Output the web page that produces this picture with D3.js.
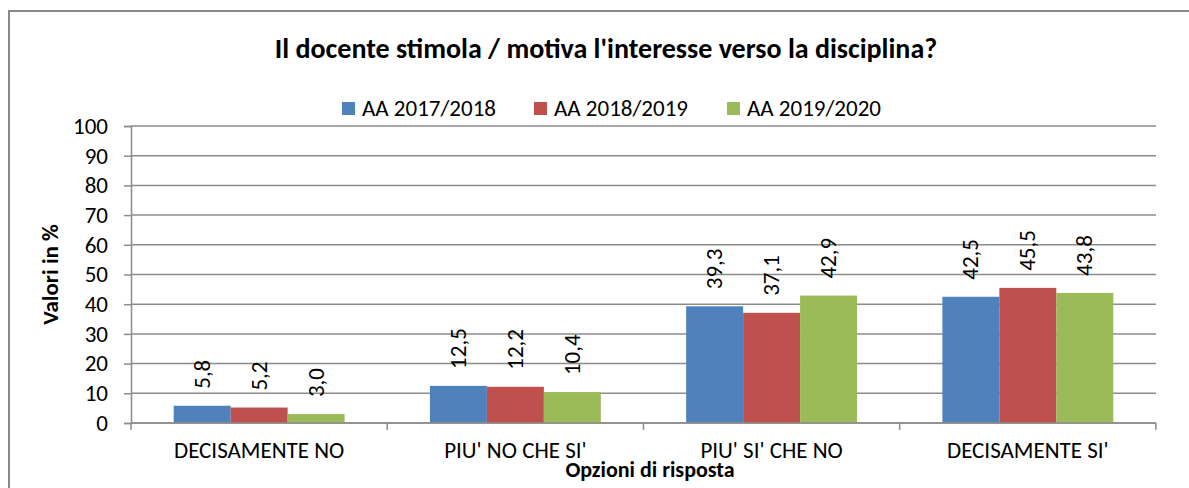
<!DOCTYPE html>
<html>
<head>
<meta charset="utf-8">
<script src="https://cdn.jsdelivr.net/npm/d3@7"></script>
<style>
  body { margin: 0; background: #fff; }
  text { font-family: Carlito, Calibri, "Liberation Sans", Arial, sans-serif; fill: #000; }
</style>
</head>
<body>
<script>
const categories = ["DECISAMENTE NO", "PIU' NO CHE SI'", "PIU' SI' CHE NO", "DECISAMENTE SI'"];
const seriesNames = ["AA 2017/2018", "AA 2018/2019", "AA 2019/2020"];
const values2017 = [5.8, 12.5, 39.3, 42.5];
const values2018 = [5.2, 12.2, 37.1, 45.5];
const values2019 = [3.0, 10.4, 42.9, 43.8];
const yTicks = [0, 10, 20, 30, 40, 50, 60, 70, 80, 90, 100];
const colors = ['#4F81BD', '#C0504D', '#9BBB59'];

const allSeries = [values2017, values2018, values2019];

const svgWidth = 1189;
const svgHeight = 488;
const fontFam = 'Carlito, Calibri, "Liberation Sans", Arial, sans-serif';

const svg = d3.select('body').append('svg')
    .attr('width', svgWidth)
    .attr('height', svgHeight);

// outer frame, runs off the right and bottom edges
svg.append('rect')
    .attr('x', 9).attr('y', 11)
    .attr('width', 1200).attr('height', 500)
    .attr('fill', 'none')
    .attr('stroke', '#898989')
    .attr('stroke-width', 2);

const margin = { top: 126, left: 131, right: 33, bottom: 65 };
const chartWidth = svgWidth - margin.left - margin.right;
const chartHeight = svgHeight - margin.top - margin.bottom;

const g = svg.append('g').attr('transform', 'translate(' + margin.left + ',' + margin.top + ')');

let x0 = d3.scaleBand()
    .domain(categories)
    .range([0, chartWidth])
    .paddingInner(0.333)
    .paddingOuter(0.1667);

let x1 = d3.scaleBand()
    .domain(d3.range(seriesNames.length))
    .range([0, x0.bandwidth()]);

let y = d3.scaleLinear().domain([0, 100]).range([chartHeight, 0]);

// gridlines
g.append('g')
    .selectAll('line')
    .data(yTicks)
    .enter().append('line')
    .attr('x1', 0).attr('x2', chartWidth)
    .attr('y1', d => y(d)).attr('y2', d => y(d))
    .attr('stroke', '#8c8c8c')
    .attr('stroke-width', 1.5);

// y axis
const yAxis = g.append('g')
    .call(d3.axisLeft(y).tickValues(yTicks).tickSize(7).tickPadding(16));
yAxis.select('.domain').attr('stroke', '#8c8c8c').attr('stroke-width', 1.5);
yAxis.selectAll('.tick line').attr('stroke', '#8c8c8c').attr('stroke-width', 1.5);
yAxis.selectAll('.tick text')
    .style('font-size', '23px')
    .style('font-family', fontFam)
    .attr('fill', '#000');

// bars + rotated value labels
categories.forEach((cat, ci) => {
    const grp = g.append('g').attr('transform', 'translate(' + x0(cat) + ',0)');
    allSeries.forEach((vals, si) => {
        grp.append('rect')
            .attr('x', x1(si))
            .attr('y', y(vals[ci]))
            .attr('width', x1.bandwidth())
            .attr('height', chartHeight - y(vals[ci]))
            .attr('fill', colors[si]);
        const cx = x1(si) + x1.bandwidth() / 2;
        const cy = y(vals[ci]) - 17;
        grp.append('text')
            .attr('transform', 'translate(' + cx + ',' + cy + ') rotate(-90)')
            .attr('dy', '0.32em')
            .style('font-size', '23px')
            .style('text-anchor', 'start')
            .text(d3.format('.1f')(vals[ci]).replace('.', ','));
    });
});

// x axis, ticks at category boundaries
const boundaries = d3.range(categories.length + 1).map(i => i * x0.step());
const xAxisG = g.append('g').attr('transform', 'translate(0,' + chartHeight + ')');
xAxisG.append('line')
    .attr('x1', 0).attr('x2', chartWidth)
    .attr('stroke', '#8c8c8c').attr('stroke-width', 1.5);
xAxisG.selectAll('.bt')
    .data(boundaries)
    .enter().append('line')
    .attr('x1', d => d).attr('x2', d => d)
    .attr('y1', 0).attr('y2', 7)
    .attr('stroke', '#8c8c8c').attr('stroke-width', 1.5);
xAxisG.selectAll('.cl')
    .data(categories)
    .enter().append('text')
    .attr('x', d => x0(d) + x0.bandwidth() / 2)
    .attr('y', 35)
    .style('font-size', '23px')
    .style('text-anchor', 'middle')
    .text(d => d);

// axis titles
svg.append('text')
    .attr('x', 650)
    .attr('y', 477)
    .style('font-size', '22px')
    .style('font-weight', 'bold')
    .style('text-anchor', 'middle')
    .text('Opzioni di risposta');

svg.append('text')
    .attr('transform', 'translate(58,' + (margin.top + chartHeight / 2) + ') rotate(-90)')
    .style('font-size', '23px')
    .style('font-weight', 'bold')
    .style('text-anchor', 'middle')
    .text('Valori in %');

// title
svg.append('text')
    .attr('x', 606)
    .attr('y', 58)
    .style('font-size', '28px')
    .style('font-weight', 'bold')
    .style('text-anchor', 'middle')
    .text("Il docente stimola / motiva l'interesse verso la disciplina?");

// legend
const legendX = [342, 534, 727];
const legend = svg.append('g');
seriesNames.forEach((name, i) => {
    legend.append('rect')
        .attr('x', legendX[i]).attr('y', 102)
        .attr('width', 13).attr('height', 13)
        .attr('fill', colors[i]);
    legend.append('text')
        .attr('x', legendX[i] + 20).attr('y', 116)
        .style('font-size', '23px')
        .text(name);
});
</script>
</body>
</html>
